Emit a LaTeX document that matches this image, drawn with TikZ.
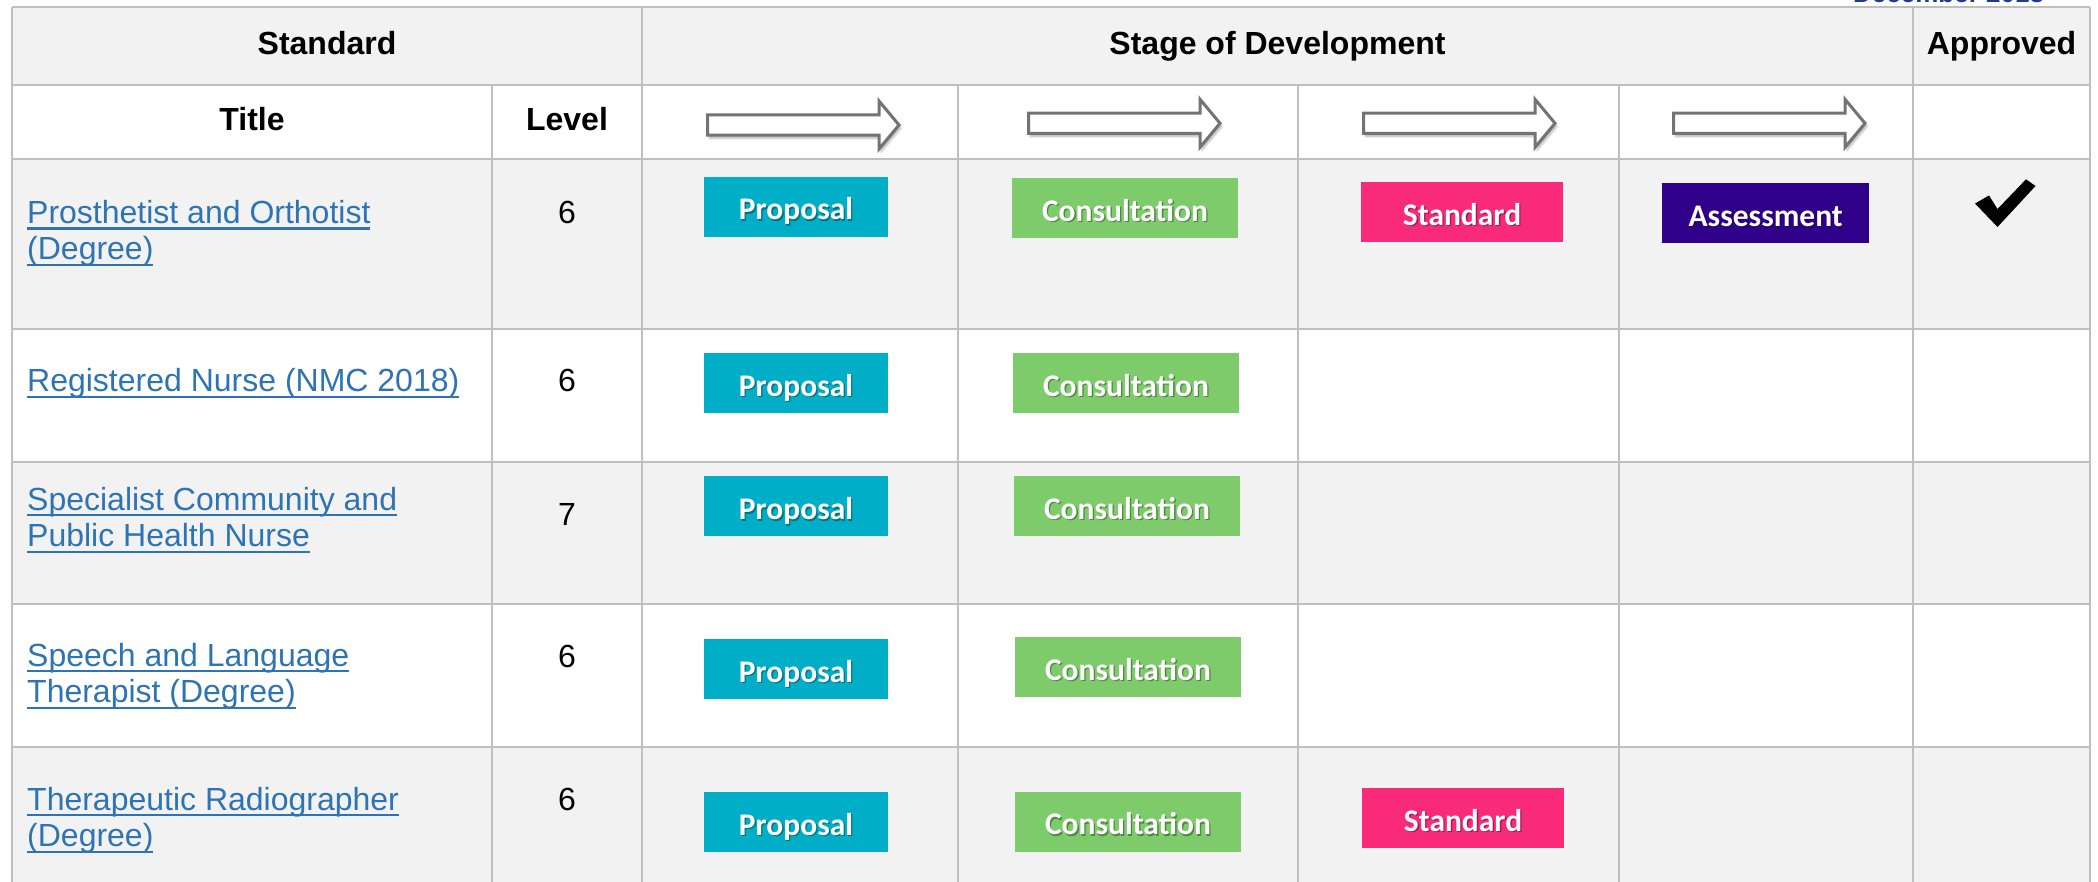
\documentclass[tikz,border=0pt]{standalone}
\usepackage{fontspec}
\setmainfont{Liberation Sans}
\newfontfamily\badgefont{Carlito}
\usepackage{xcolor}
\usetikzlibrary{shadows.blur}

\definecolor{gridgray}{HTML}{BFBFBF}
\definecolor{rowgray}{HTML}{F2F2F2}
\definecolor{linkblue}{HTML}{2E74B5}
\definecolor{datenavy}{HTML}{1F3A8F}
\definecolor{arrowgray}{HTML}{737373}
\definecolor{propcol}{HTML}{00AEC7}
\definecolor{conscol}{HTML}{7DCB6B}
\definecolor{stdcol}{HTML}{F92A79}
\definecolor{assesscol}{HTML}{30008A}

% underlined link text
\newcommand{\linkline}[1]{\setbox0\hbox{#1}\rlap{\rule[-6.4pt]{\wd0}{2.4pt}}\box0}
% badge text with a soft shadow
\newcommand{\stagetext}[1]{\rlap{\kern1.3pt\raisebox{-1.3pt}{\pgfsetfillopacity{0.35}\color{black}#1\pgfsetfillopacity{1}}}#1}

\begin{document}
\begin{tikzpicture}[x=1pt, y=-1pt,
    gridline/.style={draw=gridgray, line width=2pt},
    headtext/.style={font=\fontsize{32}{36}\selectfont\bfseries, inner sep=0pt},
    plaintext/.style={font=\fontsize{32}{36}\selectfont, inner sep=0pt},
    linktext/.style={font=\fontsize{32}{36.7}\selectfont, text=linkblue, align=left, inner sep=0pt},
    stagearrow/.style={draw=arrowgray, fill=white, line width=3pt, line join=miter,
        blur shadow={shadow xshift=2pt, shadow yshift=-3pt, shadow blur steps=6, shadow opacity=30}},
    stagebox/.style={inner sep=0pt, minimum height=60pt, text=white,
        font=\badgefont\bfseries\fontsize{31.5}{31.5}\selectfont, text height=30pt, text depth=3.4pt},
    propbox/.style={stagebox, fill=propcol, minimum width=184pt},
    consbox/.style={stagebox, fill=conscol, minimum width=226pt},
    stdbox/.style={stagebox, fill=stdcol, minimum width=202pt},
    assessbox/.style={stagebox, fill=assesscol, minimum width=207pt}]

    \useasboundingbox (0, 0) rectangle (2098, 882);
    \clip (0, 0) rectangle (2098, 882);

    % shaded rows
    \fill[rowgray] (12, 7.3) rectangle (2090, 85);
    \fill[rowgray] (12, 159.3) rectangle (2090, 329);
    \fill[rowgray] (12, 461.7) rectangle (2090, 603.7);
    \fill[rowgray] (12, 747) rectangle (2090, 882);

    % grid
    \foreach \y in {7.3, 85, 159.3, 329, 461.7, 603.7, 747}
        \draw[gridline] (12, \y) -- (2090, \y);
    \foreach \x in {12, 642, 1913, 2090}
        \draw[gridline] (\x, 7.3) -- (\x, 882);
    \foreach \x in {492, 958, 1298, 1619}
        \draw[gridline] (\x, 85) -- (\x, 882);

    \node[font=\fontsize{26}{26}\selectfont\bfseries, text=datenavy, anchor=base west, inner sep=0pt]
        (date) at (1853, 2.7) {December 2018};

    % header
    \node[headtext, anchor=base] (hstandard) at (327, 55) {Standard};
    \node[headtext, anchor=base] (hstage) at (1277.5, 55) {Stage of Development};
    \node[headtext, anchor=base] (happroved) at (2001.5, 55) {Approved};
    \node[headtext, anchor=base] (htitle) at (252, 131) {Title};
    \node[headtext, anchor=base] (hlevel) at (567, 131) {Level};

    % arrows
    \foreach \x/\y in {707.5/125, 1028.5/123.3, 1363.5/123.3, 1673.5/123.3}
        \draw[stagearrow] (\x, \y-10.2) -- (\x+171.5, \y-10.2) -- (\x+171.5, \y-24)
            -- (\x+191.5, \y) -- (\x+171.5, \y+24) -- (\x+171.5, \y+10.2)
            -- (\x, \y+10.2) -- cycle;

    % titles and levels (base = last line)
    \node[linktext, anchor=base west] (t1) at (27, 260) {\linkline{Prosthetist and Orthotist}\\\linkline{(Degree)}};
    \node[linktext, anchor=base west] (t2) at (27, 391.7) {\linkline{Registered Nurse (NMC 2018)}};
    \node[linktext, anchor=base west] (t3) at (27, 546.7) {\linkline{Specialist Community and}\\\linkline{Public Health Nurse}};
    \node[linktext, anchor=base west] (t4) at (27, 702.7) {\linkline{Speech and Language}\\\linkline{Therapist (Degree)}};
    \node[linktext, anchor=base west] (t5) at (27, 846.7) {\linkline{Therapeutic Radiographer}\\\linkline{(Degree)}};

    \node[plaintext, anchor=base] (l1) at (567, 223.3) {6};
    \node[plaintext, anchor=base] (l2) at (567, 391.7) {6};
    \node[plaintext, anchor=base] (l3) at (567, 525) {7};
    \node[plaintext, anchor=base] (l4) at (567, 667.3) {6};
    \node[plaintext, anchor=base] (l5) at (567, 810.7) {6};

    % stages
    \node[propbox] (p1) at (796, 206.7) {\stagetext{Proposal}};
    \node[consbox] (c1) at (1125, 208) {\stagetext{Consultation}};
    \node[stdbox] (s1) at (1462, 212.3) {\stagetext{Standard}};
    \node[assessbox] (a1) at (1765.7, 213.2) {\stagetext{Assessment}};

    \node[propbox] (p2) at (796, 382.7) {\stagetext{Proposal}};
    \node[consbox] (c2) at (1126, 382.7) {\stagetext{Consultation}};

    \node[propbox] (p3) at (796, 506.4) {\stagetext{Proposal}};
    \node[consbox] (c3) at (1127, 506) {\stagetext{Consultation}};

    \node[propbox] (p4) at (796, 668.7) {\stagetext{Proposal}};
    \node[consbox] (c4) at (1128, 666.7) {\stagetext{Consultation}};

    \node[propbox] (p5) at (796, 822) {\stagetext{Proposal}};
    \node[consbox] (c5) at (1128, 821.5) {\stagetext{Consultation}};
    \node[stdbox] (s5) at (1463, 818.2) {\stagetext{Standard}};

    % approved
    \fill (1975, 203.5) -- (1989, 195.5) -- (1997.5, 209) -- (2026, 179.3)
        -- (2035.5, 186) -- (1997.5, 227) -- cycle;
\end{tikzpicture}
\end{document}
